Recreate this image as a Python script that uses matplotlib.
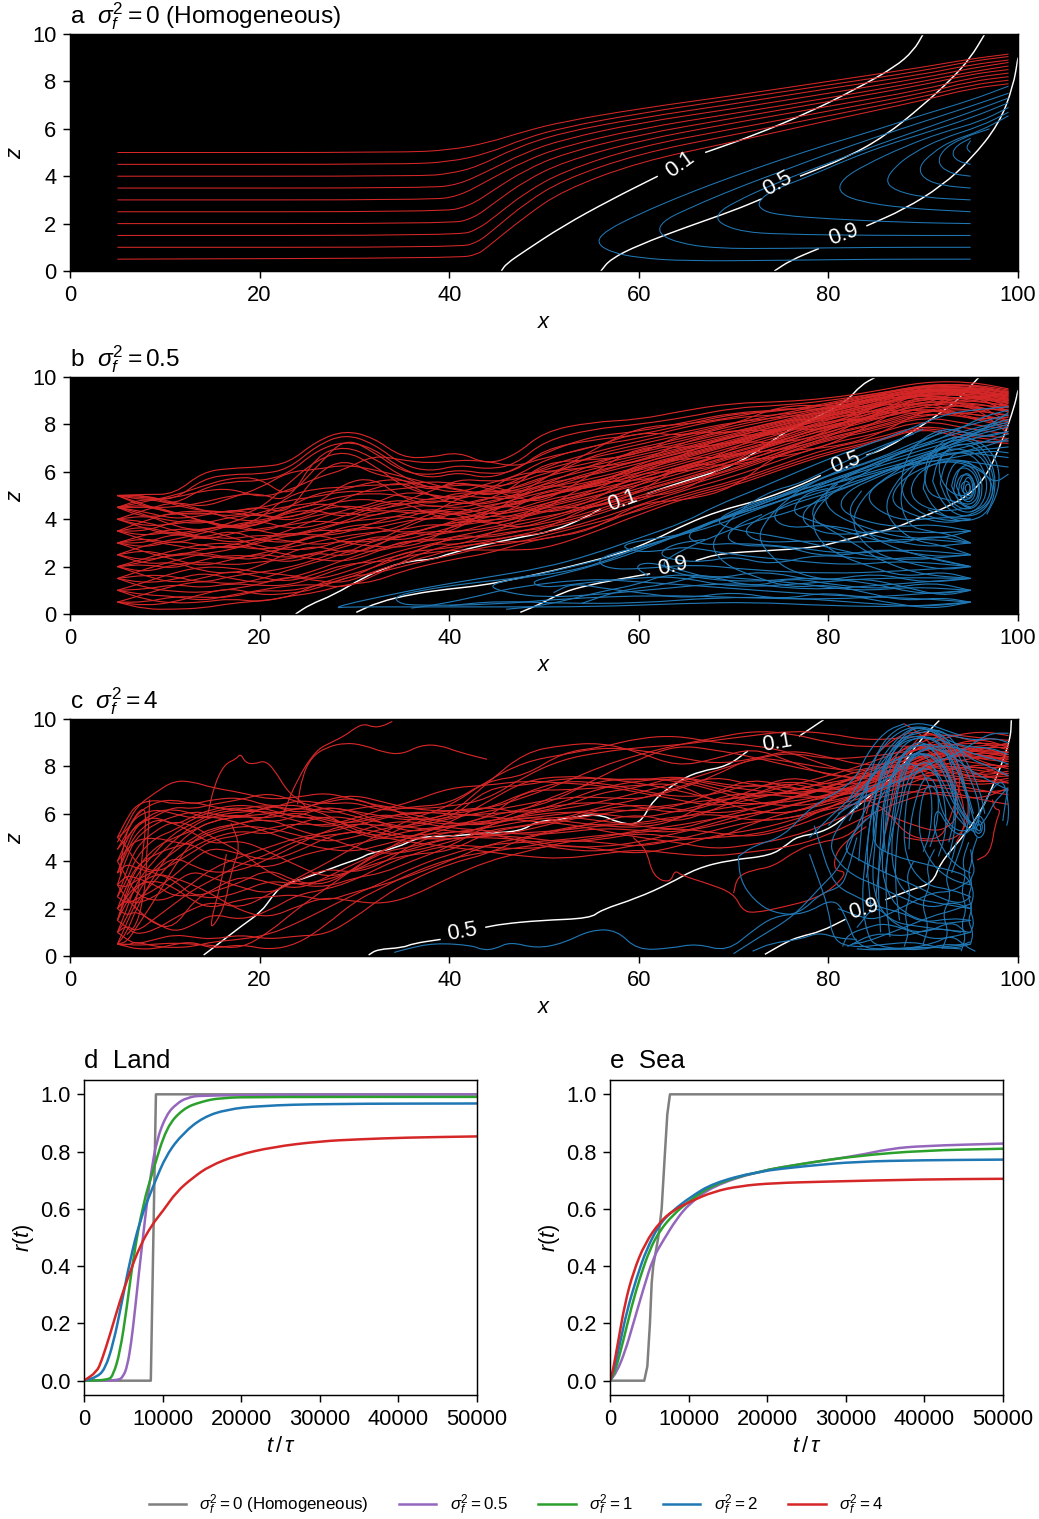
import numpy as np
import matplotlib
matplotlib.use("Agg")
import matplotlib.pyplot as plt
from matplotlib.path import Path
from matplotlib.patches import PathPatch

plt.rcParams['font.family'] = ['Liberation Sans', 'DejaVu Sans']
plt.rcParams['mathtext.fontset'] = 'custom'
plt.rcParams['mathtext.rm'] = 'Liberation Sans'
plt.rcParams['mathtext.it'] = 'Liberation Sans:italic'
plt.rcParams['font.size'] = 10.5
plt.rcParams['axes.linewidth'] = 0.7

RED = '#d62728'
BLUE = '#1f77b4'
PURPLE = '#9467bd'
GREEN = '#2ca02c'
GREY = '#7f7f7f'

# ---- panel a: streamlines, homogeneous field
a_red = [
    [(5,5),(35,5),(40,5.1),(44,5.4),(48,5.9),(52,6.3),(60,6.85),(70,7.4),(80,8.0),(90,8.6),(95,8.95),(99,9.15)],
    [(5,4.5),(35,4.5),(40,4.6),(44,4.95),(48,5.6),(52,6.05),(60,6.65),(70,7.25),(80,7.85),(90,8.45),(95,8.85),(99,9.05)],
    [(5,4),(37,4),(40,4.1),(43,4.4),(47,5.2),(52,5.85),(60,6.45),(70,7.05),(80,7.7),(90,8.3),(95,8.7),(99,8.9)],
    [(5,3.5),(38,3.5),(41,3.65),(44,4.2),(48,5.0),(52,5.55),(60,6.25),(70,6.85),(80,7.5),(90,8.15),(95,8.55),(99,8.8)],
    [(5,3),(38,3),(41,3.15),(44,3.8),(48,4.65),(52,5.25),(60,6.0),(70,6.65),(80,7.3),(90,8.0),(95,8.4),(99,8.65)],
    [(5,2.5),(39,2.5),(42,2.7),(45,3.5),(48,4.25),(52,4.95),(60,5.75),(70,6.45),(80,7.15),(90,7.85),(95,8.3),(99,8.5)],
    [(5,2),(40,2.0),(42.5,2.2),(45,2.95),(48,3.8),(52,4.6),(60,5.5),(70,6.25),(80,6.95),(90,7.65),(95,8.15),(99,8.35)],
    [(5,1.5),(41,1.5),(43,1.75),(45,2.35),(48,3.3),(52,4.2),(60,5.25),(70,6.0),(80,6.75),(90,7.5),(95,8.0),(99,8.2)],
    [(5,1),(41,1.0),(43,1.2),(45,1.85),(48,2.85),(52,3.85),(60,4.95),(70,5.75),(80,6.55),(90,7.35),(95,7.85),(99,8.05)],
    [(5,.5),(41,.55),(43,.7),(44,1.0),(48,2.3),(52,3.4),(60,4.6),(70,5.45),(80,6.35),(90,7.2),(95,7.7),(99,7.9)],
]
a_blue = [
    [(95,.5),(85,.5),(75,.45),(65,.42),(60,.55),(57,.8),(55.5,1.2),(56.5,1.7),(60,2.4),(65,3.25),(70,4.0),(75,4.7),(80,5.35),(85,5.95),(90,6.6),(95,7.2),(99,7.8)],
    [(95,1),(85,1),(75,.95),(68,.95),(64,1.2),(62,1.6),(62.5,2.1),(65,2.6),(70,3.45),(75,4.2),(80,4.95),(85,5.65),(90,6.3),(95,6.95),(99,7.5)],
    [(95,1.5),(85,1.5),(75,1.55),(71,1.65),(68.5,2.0),(68.2,2.4),(70,2.9),(75,3.8),(80,4.55),(85,5.3),(90,6.0),(95,6.7),(99,7.3)],
    [(95,2),(88,2.05),(80,2.2),(75,2.35),(73,2.55),(72.5,2.9),(74,3.4),(78,4.0),(82,4.7),(86,5.3),(90,5.8),(95,6.45),(99,7.1)],
    [(95,2.5),(88,2.65),(83,2.95),(81,3.35),(81.5,3.9),(84,4.5),(88,5.25),(92,5.85),(96,6.3),(99,6.9)],
    [(95,3),(90,3.1),(87,3.4),(86,3.8),(87,4.4),(89,5.0),(92,5.6),(96,6.1),(99,6.7)],
    [(95,3.5),(92,3.6),(90,3.9),(89.5,4.4),(91,5.0),(93,5.5),(96,5.9),(99,6.55)],
    [(95,4),(93,4.1),(91.5,4.5),(92,5.1),(94,5.6),(97,6.0)],
    [(95,4.5),(93.8,4.6),(93,4.9),(93.5,5.3),(95,5.6)],
    [(95,5),(94.5,5.2),(95,5.5)],
]
a_contours = [
    [(45.5,0),(46,.3),(48,.85),(52,1.9),(57,3),(62,4)],
    [(67,5),(72,5.7),(78,6.7),(83,7.7),(87,8.6),(89,9.3),(90,10)],
    [(56,0),(57,.5),(60,1.1),(65,1.85),(70,2.55),(73,3.05)],
    [(77,4.0),(82,4.8),(86,5.7),(90,7),(93,8.1),(95,9),(96.5,10)],
    [(74.3,0),(76,.45),(79,.95)],
    [(84,1.9),(88,2.6),(92,3.6),(95,4.7),(98,6.2),(99.5,7.8),(100,9)],
]
a_labels = [('0.1',64.4,4.47,36),('0.5',74.6,3.67,30),('0.9',81.6,1.52,20)]

# ---- panel b
b_red_x = [5,8,11,14,17,20,23,26,29,32,35,38,41,44,47,50,55,60,65,70,75,80,85,90,95,99]
b_red = [
    [5.0,5.05,5.05,6.0,6.15,6.2,6.35,7.3,7.75,7.45,6.6,6.6,6.85,6.3,6.7,7.7,8.1,8.2,8.6,8.9,8.95,9.1,9.4,9.8,9.8,9.5],
    [5.0,4.9,4.8,5.7,5.9,5.9,6.1,7.1,7.6,7.2,6.3,6.0,6.3,6.1,6.3,7.3,7.8,8.0,8.3,8.7,8.8,9.0,9.3,9.6,9.7,9.3],
    [4.5,4.9,4.6,5.3,5.6,5.6,5.9,6.9,7.3,7.0,6.1,5.7,6.0,5.7,6.1,6.8,7.5,7.7,8.1,8.5,8.6,8.8,9.2,9.5,9.5,9.2],
    [4.5,4.5,4.5,4.7,5.0,5.1,4.7,6.7,7.1,6.6,5.8,5.3,5.1,5.5,5.8,6.5,7.1,7.4,7.9,8.3,8.4,8.7,9.1,9.4,9.4,9.0],
    [5.0,4.6,4.2,4.3,4.1,4.4,5.5,6.5,6.9,6.3,5.4,5.0,4.8,5.2,5.6,6.2,6.8,7.3,7.7,8.1,8.3,8.5,9.0,9.3,9.3,8.9],
    [.5,.2,.2,.25,.45,.55,.7,1.25,1.6,1.95,2.4,2.6,2.7,2.7,2.7,2.75,3.4,4.2,4.9,5.4,6.1,6.75,7.25,7.9,7.3,7.2],
    [.5,.5,.75,.7,.7,1.0,.95,1.2,1.45,1.95,2.6,2.7,2.85,3.0,3.05,3.15,3.6,4.45,5.1,5.6,6.3,7.0,7.4,8.0,7.6,7.4],
    [1.0,.8,.75,.55,.8,1.0,1.2,1.25,1.1,1.6,2.2,2.7,3.0,3.1,3.3,3.4,3.9,4.6,5.25,5.8,6.5,7.2,7.6,8.2,7.8,7.6],
    [1.0,1.05,1.25,1.1,1.3,1.2,1.2,1.55,2.0,2.3,2.7,2.95,3.2,3.3,3.5,3.6,4.1,4.8,5.4,6.0,6.7,7.35,7.75,8.35,8.0,7.8],
    [1.5,1.3,1.45,1.75,1.5,1.3,1.5,1.85,2.3,2.7,3.0,3.2,3.1,3.4,3.65,3.8,4.3,5.0,5.55,6.15,6.85,7.45,7.9,8.5,8.3,8.0],
    [1.5,1.65,1.6,1.3,1.6,1.75,1.95,2.3,2.75,2.6,2.9,3.3,3.5,3.6,3.9,4.1,4.5,5.15,5.7,6.3,7.0,7.6,8.05,8.65,8.45,8.2],
    [2.0,1.75,2.1,2.2,2.05,2.2,2.3,2.6,2.4,2.9,3.3,3.5,3.45,3.8,4.0,4.3,4.75,5.3,5.85,6.45,7.1,7.7,8.2,8.8,8.6,8.4],
    [2.0,2.1,1.9,2.3,2.5,2.4,2.15,2.5,3.0,3.2,3.1,3.4,3.75,3.9,4.2,4.5,4.95,5.45,6.0,6.6,7.2,7.85,8.3,8.9,8.75,8.55],
    [2.5,2.25,2.5,2.5,2.3,2.55,2.8,3.05,3.3,3.45,3.55,3.8,3.7,4.1,4.35,4.65,5.1,5.55,6.15,6.7,7.3,7.95,8.4,9.0,8.85,8.7],
    [2.5,2.7,2.4,2.75,2.9,2.7,2.9,3.3,3.55,3.7,3.4,3.6,4.0,4.25,4.4,4.8,5.2,5.7,6.3,6.85,7.4,8.05,8.5,9.1,9.0,8.8],
    [3.0,2.8,3.1,2.9,2.75,3.0,3.3,3.55,3.5,3.6,3.9,4.05,4.0,4.35,4.65,5.0,5.35,5.85,6.4,6.95,7.5,8.1,8.6,9.2,9.1,8.9],
    [3.0,3.2,2.95,3.3,3.15,3.35,3.25,3.5,3.9,4.0,4.15,3.95,4.3,4.6,4.75,4.9,5.5,5.95,6.5,7.05,7.6,8.2,8.7,9.3,9.2,9.0],
    [3.5,3.3,3.5,3.1,3.4,3.6,3.75,3.95,3.8,4.2,4.4,4.3,4.15,4.5,4.85,5.15,5.6,6.05,6.6,7.15,7.7,8.3,8.75,9.35,9.3,9.05],
    [3.5,3.7,3.35,3.6,3.7,3.45,3.8,4.2,4.3,4.1,4.5,4.6,4.45,4.75,4.95,5.3,5.7,6.2,6.7,7.25,7.8,8.35,8.8,9.4,9.35,9.1],
    [4.0,3.7,3.8,3.95,3.65,3.9,4.1,4.35,4.6,4.4,4.6,4.8,4.7,4.6,5.05,5.5,5.85,6.35,6.85,7.35,7.9,8.4,8.9,9.45,9.4,9.15],
    [4.0,4.15,3.9,3.8,4.1,4.2,4.0,4.5,4.8,4.85,4.55,4.9,5.0,4.9,4.85,5.35,6.0,6.45,6.95,7.45,8.0,8.5,9.0,9.5,9.45,9.2],
    [4.5,4.2,3.7,3.5,3.85,4.3,4.55,4.7,5.0,5.1,5.0,4.75,5.15,5.05,5.2,5.6,6.1,6.6,7.05,7.55,8.05,8.55,9.05,9.5,9.5,9.25],
    [4.5,4.05,4.25,4.2,4.35,4.45,4.8,4.95,5.2,5.15,5.3,5.4,5.3,4.95,5.35,5.8,6.25,6.7,7.15,7.6,8.1,8.6,9.1,9.55,9.55,9.3],
    [5.0,4.5,4.3,3.9,3.6,4.0,5.0,5.3,5.35,5.45,5.45,5.6,5.5,5.35,5.5,5.95,6.4,6.8,7.25,7.7,8.15,8.65,9.15,9.6,9.6,9.35],
    [4.0,3.9,3.5,3.25,3.0,3.15,3.5,4.0,4.4,4.65,5.15,5.05,4.85,4.45,4.6,4.95,5.55,6.15,6.65,7.2,7.75,8.25,8.55,9.1,9.15,8.95],
    [3.0,3.35,3.6,3.55,3.25,2.85,2.7,2.75,3.15,3.4,3.7,4.25,4.5,4.2,4.3,4.55,5.05,5.75,6.25,6.8,7.35,7.9,8.35,8.85,8.95,8.6],
    [2.0,2.35,2.7,2.95,3.0,2.75,2.5,2.3,2.2,2.55,3.1,3.05,3.3,3.55,3.75,4.0,4.65,5.2,5.75,6.35,6.95,7.55,8.0,8.55,8.65,8.35],
    [1.0,1.35,1.75,2.0,1.95,1.75,1.65,1.45,1.75,2.2,2.5,2.85,3.35,3.2,3.45,3.7,4.2,4.9,5.5,6.1,6.75,7.4,7.85,8.4,8.5,8.1],
    [5.0,5.0,4.6,4.35,4.3,4.55,4.2,5.95,6.55,5.9,5.7,5.15,5.7,5.6,5.65,6.1,6.6,7.0,7.45,7.95,8.35,8.75,9.2,9.7,9.65,9.4],
    [4.5,4.75,5.0,5.4,5.75,5.75,4.9,6.2,7.45,6.85,6.0,5.85,6.1,5.9,6.0,6.95,7.35,7.55,8.0,8.45,8.55,8.9,9.3,9.65,9.7,9.45],
    [4.0,4.4,4.75,4.5,4.9,5.3,6.0,6.1,6.3,6.1,5.8,5.5,5.2,5.1,5.3,5.7,6.7,7.15,7.6,8.05,8.45,8.85,9.25,9.6,9.55,9.35],
    [3.5,3.95,4.3,4.35,4.3,4.1,4.5,5.1,5.25,5.6,5.7,5.3,5.45,5.45,5.1,5.45,6.3,6.9,7.35,7.85,8.25,8.7,9.1,9.45,9.45,9.05],
    [2.5,2.9,3.15,3.4,3.75,3.95,3.6,3.7,4.15,4.6,4.85,4.5,4.6,4.9,5.0,5.25,5.9,6.5,7.0,7.5,7.95,8.45,8.9,9.25,9.25,8.8],
    [1.5,1.9,2.25,2.55,2.7,3.1,3.45,3.3,3.4,3.85,4.2,4.45,4.25,4.4,4.7,5.0,5.45,6.25,6.75,7.3,7.85,8.35,8.85,9.25,9.05,8.75],
    [.5,.85,1.2,1.4,1.25,1.45,1.85,2.2,2.55,3.1,3.25,3.65,3.9,3.95,4.05,4.35,4.85,5.6,6.1,6.65,7.25,7.8,8.25,8.75,8.25,7.9],
    [.5,.35,.5,.85,1.1,.8,.85,1.05,1.55,1.7,2.0,2.3,2.55,2.85,3.0,3.3,3.8,4.35,5.0,5.5,6.2,6.85,7.3,7.95,7.45,7.3],
    [5.0,5.0,4.7,4.4,4.0,3.9,4.3,4.7,4.5,4.3,4.7,5.2,5.6,5.3,5.0,5.7,6.9,7.9,8.0,8.3,8.7,8.6,9.1,9.2,9.6,9.1],
    [4.5,4.3,4.0,4.15,4.4,4.2,3.9,4.25,4.9,5.3,5.6,5.0,4.6,4.8,5.4,6.4,6.5,6.7,7.7,7.6,8.2,8.2,8.7,9.6,9.1,9.3],
    [4.0,3.6,3.3,3.5,3.8,3.5,3.3,3.6,3.9,4.4,4.3,4.2,4.9,5.3,4.9,4.7,5.9,7.1,7.0,7.2,7.9,7.9,8.9,8.8,9.6,8.7],
    [3.5,3.1,2.9,2.7,2.9,3.2,3.1,2.9,3.1,3.0,3.6,4.1,4.3,4.0,4.5,5.2,5.3,5.9,6.8,7.6,7.5,8.5,8.5,9.0,8.9,9.4],
    [3.0,2.6,2.3,2.0,2.3,2.55,2.35,2.6,2.8,3.3,3.2,3.7,3.85,4.15,4.1,4.4,5.6,5.6,6.1,7.0,7.9,7.7,8.8,9.4,8.7,8.6],
    [2.5,2.1,2.2,1.8,1.7,2.0,2.6,2.9,2.55,2.75,3.5,3.3,3.6,4.4,4.6,4.2,4.7,6.0,6.0,6.4,7.5,8.2,8.2,8.7,9.3,8.5],
    [2.0,1.6,1.3,1.5,1.85,1.55,1.35,1.7,2.1,2.2,2.3,3.0,2.9,3.35,3.85,4.6,4.4,5.1,6.4,6.2,6.8,7.8,8.6,8.6,8.4,8.9],
    [1.5,1.1,.95,.9,1.05,1.25,1.6,1.4,1.3,1.8,2.15,2.45,2.8,3.05,3.3,3.55,4.6,4.9,5.2,6.5,6.6,7.1,8.1,9.1,8.2,8.3],
    [1.0,.6,.45,.5,.65,.5,.75,.9,1.25,1.35,1.8,2.1,2.35,2.55,2.9,3.2,3.5,4.7,4.8,5.3,6.9,7.0,7.5,8.6,8.9,7.6],
    [4.5,4.6,4.3,3.9,3.7,3.75,4.4,4.6,5.55,5.75,4.9,4.6,5.0,5.2,5.9,6.0,6.2,6.4,7.3,7.8,7.7,8.4,9.4,9.0,9.2,9.0],
    [5.0,4.8,4.9,5.2,5.3,4.9,5.2,5.75,6.1,6.7,6.5,6.35,6.5,6.45,6.2,6.6,7.0,7.7,7.5,8.0,8.8,8.8,8.7,9.5,9.35,9.2],
    [3.0,3.0,3.4,3.2,3.55,3.1,3.0,3.25,3.7,3.8,4.0,4.4,4.2,3.75,4.0,4.7,5.1,6.2,6.6,6.6,7.3,8.0,8.3,9.3,8.6,8.75],
    [2.0,2.2,2.55,2.6,2.35,2.3,2.9,3.4,3.0,2.85,2.8,3.1,3.9,3.95,3.6,3.9,4.55,5.45,6.3,6.8,6.9,7.4,8.6,8.4,9.0,8.1],
    [3.5,3.5,3.9,4.0,3.6,3.75,4.3,4.4,4.05,4.5,4.75,4.2,3.9,4.15,4.9,5.5,5.25,6.35,6.9,7.3,7.2,7.6,8.4,9.5,9.25,8.55],
]
b_blue = [
    [(95,.5),(88,.3),(80,.35),(72,.5),(65,.45),(55,.3),(45,.3),(35,.3),(29,.3),(28,.25),(29,.4),(33,.75),(38,1.15),(44,1.55),(50,1.95),(55,2.5),(60,3.2),(65,3.9),(68,4.55),(73,5.35),(77,6.05),(82,6.85),(88,7.7),(92,8.4),(95,8.6),(99,8.75)],
    [(95,1),(88,.8),(80,.6),(70,.7),(62,.8),(52,.65),(45,.4),(36,.35),(34.5,.5),(34.3,.75),(37,1.0),(42,1.3),(48,1.55),(52,1.9),(57,2.4),(62,3.0),(67,3.8),(72,4.5),(76,5.1),(80,5.9),(85,6.5),(90,7.4),(95,8.0),(99,8.4)],
    [(95,1.5),(85,1.2),(78,1.0),(70,1.35),(62,1.05),(55,.8),(50,.7),(46,.9),(44,1.2),(47,1.5),(52,1.75),(56,2.15),(60,2.8),(66,3.5),(70,4.3),(75,5.0),(79,5.7),(84,6.35),(90,7.2),(95,7.8),(99,8.2)],
    [(95,1.5),(86,1.55),(78,1.3),(70,1.1),(64,1.6),(59,1.5),(54,1.3),(50,1.1),(48.5,1.35),(51,1.6),(55,2.0),(60,2.65),(64,3.3),(69,4.05),(74,4.8),(79,5.5),(84,6.2),(89,7.0),(95,7.6),(99,8.0)],
    [(95,2.0),(87,1.8),(80,1.7),(72,1.85),(66,2.1),(60,1.9),(57,1.9),(55.5,2.2),(57,2.55),(61,2.9),(66,3.6),(71,4.3),(76,4.9),(82,5.9),(88,6.7),(94,7.4),(99,7.9)],
    [(95,2.0),(88,2.25),(82,2.05),(75,2.3),(70,2.5),(65,2.85),(63,2.7),(60,2.6),(58,2.85),(60,3.1),(64,3.3),(68,3.7),(72,4.35),(78,5.2),(84,5.95),(90,6.6),(96,7.2),(99,7.6)],
    [(95,2.5),(88,2.75),(82,2.5),(76,2.85),(70,3.0),(67,2.9),(65,3.2),(66,3.65),(69,4.1),(73,4.5),(78,5.25),(84,5.85),(90,6.5),(96,7.0),(99,7.4)],
    [(95,2.5),(87,2.2),(79,2.9),(75,3.25),(70,3.55),(68,3.9),(70,4.4),(74,4.9),(79,5.45),(85,6.2),(91,6.9),(96,7.5),(99,7.7)],
    [(95,3.0),(89,3.2),(84,3.0),(78,3.1),(73,3.0),(71,3.4),(72,3.9),(75,4.5),(80,5.1),(85,5.8),(89,6.6),(94,7.2),(99,7.3)],
    [(95,3.0),(90,2.8),(85,3.3),(80,3.8),(76,3.6),(74,4.0),(75,4.6),(78,5.0),(83,5.6),(88,6.3),(93,6.8),(99,7.05)],
    [(95,3.5),(91,3.4),(86,3.55),(81,3.3),(78,3.6),(77,4.2),(79,4.9),(83,5.5),(87,6.2),(92,6.5),(97,6.9),(99,6.8)],
    [(95,3.5),(91,3.8),(87,3.65),(83,4.0),(81,4.5),(82,5.2),(85,5.75),(89,6.4),(93,6.9),(99,6.6)],
    [(95,4.0),(92,4.1),(88,3.9),(85,4.4),(84,5.0),(85.5,5.6),(88,6.1),(92,6.6),(97,6.3),(99,6.2)],
    [(95,4.0),(92,3.8),(88,4.3),(86.5,4.8),(87.5,5.6),(90,6.2),(93,6.5),(96,6.1),(97.5,5.5),(99,5.9)],
    [(95,4.5),(92,4.3),(89.5,4.6),(88.5,5.2),(89.5,6.0),(92,6.5),(95,6.4),(97,5.8),(97.5,5),(96,4.3),(93,4.0),(90.5,4.4)],
    [(95,.5),(90,.65),(82,.75),(74,.95),(66,1.2),(60,1.35),(55,1.5),(47,1.15),(42,.65),(38,.35),(36,.25)],
    [(95,.5),(90,.3),(84,.45),(76,.7),(68,.7),(60,.45),(52,.45),(45,.55),(40,.35)],
    [(95,1.0),(89,1.15),(83,.95),(76,1.35),(69,1.55),(63,1.7),(60,1.25),(56,.95),(50,.35),(46,.2)],
    [(95,1.0),(90,.8),(84,1.35),(78,1.55),(72,1.35),(66,1.5),(62,2.0),(64,2.6),(68,3.3),(72,3.9),(76,4.3),(80,4.9)],
    [(95,1.5),(90,1.65),(86,2.15),(83,2.9),(80,3.6),(78,4.1),(79,4.9),(81,5.5)],
    [(95,2),(91,2.3),(86,2.9),(83,3.7),(82,4.4),(83.5,5.2)],
    [(95,.5),(92,.7),(88,.55),(84,.9),(80,1.25),(76,1.1),(72,1.6),(69,2.1),(67.5,2.9),(69,3.7),(71,4.5),(74,5.2),(77,5.5),(81,6.3),(85,7.0),(89,7.6)],
    [(95,1),(92,.75),(88,1.15),(84,1.5),(80,1.4),(76,1.8),(74,2.4),(72.5,3.2),(73.5,4.0),(75.5,4.8),(78,5.5),(82,6.2),(86,7.1),(90,7.8)],
    [(95,1.5),(92,1.8),(88,1.55),(84,2.05),(81,2.5),(79,3.1),(78.2,3.9),(79,4.6),(81,5.3),(84,6.0),(88,6.9),(92,7.7)],
    [(95,2),(92,1.85),(88,2.2),(85,2.55),(83,3.3),(82.5,4.1),(84,5.1),(86.5,5.9),(90,6.7),(94,7.3),(98,8.1)],
    [(95,2.5),(92,2.9),(89,3.1),(87,3.7),(86,4.4),(86.5,5.2),(88.5,6.2),(92,7.0),(96,7.7),(99,8.5)],
    [(95,3),(93,3.35),(90.5,3.5),(88.5,3.7),(87.5,4.7),(88,5.7),(90,6.6),(94,7.6),(99,8.1)],
    [(95,.5),(91,.2),(86,.5),(80,.95),(75,.6),(70,.95),(65,.65),(60,.9),(56,1.1),(53,1.3),(51,.9)],
    [(95,1),(91,1.35),(86,1.05),(81,1.2),(76,1.55),(72,1.1),(67,1.7),(63,1.25),(58,1.0),(54,.45)],
    [(95,1.5),(90,1.3),(85,1.75),(79,1.35),(73,1.85),(68,1.45),(64,1.9),(61,2.2),(59.5,2.0),(61,1.6)],
    [(95,2),(90,2.45),(85,2.25),(79,2.55),(74,2.05),(70,2.45),(67,2.2),(64,2.25),(62,2.5),(63.5,2.95),(67,3.15)],
    [(95,2.5),(91,2.4),(86,2.8),(80,2.35),(75,2.9),(71,2.85),(69,3.2),(70.5,3.8),(73,4.2)],
    [(95,3),(91,3.35),(87,2.9),(82,3.45),(78,3.95),(76,4.3),(77.5,5.1),(80,5.3)],
    [(95,3.5),(92,3.2),(88,3.2),(84,3.6),(80,4.3),(79.5,5.2),(82,5.8),(86,6.6),(91,7.2),(96,8.3),(99,8.6)],
    [(95,4),(93,3.9),(90,4.15),(87.5,5),(88,6.5),(90,7.5),(93,7.9),(96,7.4),(99,7.7)],
    [(95,4.5),(93,4.8),(90.5,5),(90,6),(91,7),(93.5,7.6),(96.5,7.2),(98,6.3),(98,5.2),(96.7,4.2)],
    [(95,5),(93,5),(91.5,5.9),(92,6.9),(94,7.0),(96.5,6.6),(97.3,5.5),(96.7,4.6),(95,4.3)],
    # spiral around the vortex
    [(90,5.3),(90.5,6.4),(92.5,7.3),(94.8,7.4),(96.8,6.8),(97.8,5.6),(97,4.3),(95,3.9),(92.8,4.0),(91,4.5),(90,5.3)],
    [(91,5.6),(91.5,6.5),(93,7.1),(94.5,7.2),(96,6.9),(97.3,6.1),(97.5,5.2),(96.6,4.4),(95,4.1),(93.3,4.2),(91.8,4.8),(91,5.6)],
    [(91.8,5.5),(92.2,6.3),(93.3,6.8),(94.7,6.8),(96,6.4),(96.8,5.6),(96.5,4.8),(95.4,4.3),(94,4.3),(92.6,4.7),(91.8,5.5)],
    [(92.4,5.4),(92.8,6.1),(93.7,6.5),(95,6.4),(96,5.9),(96.3,5.2),(95.8,4.6),(94.8,4.4),(93.6,4.5),(92.7,4.9),(92.4,5.4)],
    [(93,5.4),(93.3,5.9),(94,6.2),(95,6.1),(95.7,5.7),(95.9,5.1),(95.4,4.7),(94.5,4.6),(93.6,4.8),(93,5.4)],
    [(93.5,5.4),(93.8,5.8),(94.4,5.9),(95.1,5.8),(95.4,5.4),(95.3,5),(94.7,4.8),(94,4.9),(93.5,5.4)],
    [(94,5.4),(94.3,5.6),(94.8,5.6),(95,5.3),(94.7,5.05),(94.2,5.1),(94,5.4)],
    [(93.2,5.2),(93.5,5.9),(94.2,6.3),(95.2,6.2),(96,5.6),(95.9,4.8),(95,4.45),(94,4.6),(93.2,5.2)],
    [(93.7,5.1),(93.9,5.7),(94.6,6.0),(95.3,5.7),(95.6,5.1),(95,4.7),(94.2,4.8),(93.7,5.1)],
    [(94.2,5.2),(94.4,5.7),(94.9,5.8),(95.3,5.4),(95.1,4.95),(94.6,4.85),(94.2,5.2)],
    [(94.4,5.3),(94.6,5.5),(94.95,5.45),(95,5.2),(94.7,5.05),(94.4,5.3)],
]
b_contours = [
    [(23.8,0),(25.3,.4),(27.8,.8),(31,1.55),(33.6,2),(36,2.25),(38.3,2.3),(40,2.55),(43.5,2.9),(47.5,3.24),(51,3.5),(54.5,4.1),(56,4.45)],
    [(60.8,5.07),(65,5.63),(68.6,6.05),(72,6.7),(75.6,7.75),(79.2,8.38),(82,9.0),(83.4,9.65),(85,10)],
    [(30.2,.07),(32.5,.5),(36.2,.85),(39.8,1.05),(43.4,1.2),(47,1.48),(51,1.83),(54.5,2.18),(58,2.54),(61.5,3.1),(65,3.8),(68.6,4.37),(72,4.72),(74.2,5),(77.4,5.5),(79.2,5.85)],
    [(84,6.7),(86.2,7),(89.7,7.9),(93.2,8.87),(94.6,9.44),(95.9,10)],
    [(47.5,.07),(49.6,.42),(52,.92),(54.5,1.2),(58,1.48),(61.2,1.7)],
    [(66,2.25),(68.6,2.56),(73.9,2.68),(78.5,2.8),(80.9,3.03),(84.4,3.4),(86.9,3.6),(89.7,4.08),(92.5,4.5),(95,5.07),(96.8,5.9),(98.5,7.46),(99.6,8.73),(100,9.44)],
]
b_labels = [('0.1',58.3,4.8,20),('0.5',81.8,6.37,20),('0.9',63.6,2.03,13)]

# ---- panel c
c_red_x = [5,6,7,9,11,13,15,18,21,24,27,30,33,36,40,44,48,52,56,60,64,68,72,76,80,84,88,92,96,99]
c_red = [
    [.5,.5,.45,.5,.55,.5,.45,.3,1.0,2.0,2.85,3.7,4.4,4.6,5.0,5.0,4.9,4.6,4.6,4.8,5.2,5.5,5.9,6.4,6.7,7.0,7.6,7.4,7.2,7.4],
    [.5,1.0,2.0,3.5,4.6,5.3,5.7,5.9,5.8,6.1,5.7,5.6,5.9,6.0,6.1,6.3,6.0,6.3,6.9,7.1,7.6,7.2,7.0,6.8,7.0,7.5,8.3,8.6,8.3,8.4],
    [.5,.6,1.2,2.4,3.8,4.9,5.3,5.6,5.9,6.3,6.0,5.3,5.0,5.6,6.0,6.2,6.9,7.4,7.3,7.0,6.7,6.8,7.3,6.9,6.6,7.1,7.7,8.2,7.9,8.0],
    [1.0,.7,.5,.7,.9,.8,.7,.9,.7,.85,.9,1.6,2.5,3.2,3.9,4.3,5.0,5.3,5.7,6.0,5.6,6.2,6.8,7.4,6.8,7.2,7.9,8.8,8.5,8.2],
    [1.0,1.6,2.6,3.8,4.4,5.0,5.4,5.6,5.8,5.3,5.0,4.6,4.3,4.4,4.8,5.3,5.5,5.8,6.3,6.6,7.1,7.6,7.2,7.1,6.9,7.6,8.2,8.0,7.6,7.8],
    [1.5,2.3,2.9,3.5,3.3,3.0,2.6,1.9,1.6,2.1,2.5,2.3,2.2,2.5,3.3,4.0,4.4,4.8,5.0,5.3,5.5,5.8,6.0,6.3,6.8,7.4,8.0,8.6,8.9,8.9],
    [1.5,2.8,3.7,4.6,5.0,5.3,5.7,5.9,6.0,6.2,6.5,6.7,6.2,6.0,5.6,5.5,6.0,6.5,7.1,7.4,7.5,7.1,6.7,6.9,7.0,7.1,7.5,8.1,8.4,8.6],
    [2.0,2.5,3.0,3.2,2.9,2.3,2.0,2.4,2.5,2.6,2.3,2.7,3.0,3.4,4.0,4.7,5.0,5.4,5.6,5.5,5.3,5.8,6.2,6.7,7.1,7.8,8.5,9.2,9.5,9.3],
    [2.5,3.6,4.6,5.3,5.7,5.5,5.0,4.4,3.5,3.0,2.9,3.3,3.5,4.0,4.6,5.5,6.0,6.2,6.5,6.9,7.3,7.8,8.3,8.6,8.3,8.4,8.6,8.9,9.0,8.9],
    [3.0,3.4,3.3,3.0,2.5,2.6,2.4,2.7,3.2,3.0,3.2,3.6,4.2,4.5,5.0,5.0,5.3,5.7,6.0,6.2,6.4,6.6,6.7,6.9,7.4,7.9,8.0,7.6,7.3,7.5],
    [3.0,4.2,5.0,5.6,5.9,6.1,6.0,5.8,6.4,6.1,6.6,6.8,6.5,6.2,6.1,6.2,6.7,7.3,8.0,8.5,8.9,9.2,9.5,9.4,9.0,8.8,8.9,8.7,8.3,8.2],
    [3.5,4.4,5.2,5.8,5.6,5.2,4.7,4.9,4.4,3.8,3.3,3.6,4.0,4.3,4.4,5.2,5.5,5.7,6.2,6.4,6.2,6.0,6.2,6.6,7.2,7.6,8.2,7.9,7.5,7.7],
    [3.5,3.9,3.7,3.5,3.2,2.5,2.7,3.1,3.7,3.1,3.0,3.7,4.5,4.9,5.4,5.9,6.2,6.7,7.6,8.3,8.9,8.7,8.4,8.0,7.7,7.4,7.7,8.3,8.8,8.8],
    [4.0,4.5,4.9,5.0,4.8,4.7,4.2,3.9,3.7,4.2,4.5,4.7,5.0,5.3,5.5,5.6,6.2,6.9,7.4,7.5,7.4,7.0,6.5,6.3,6.5,6.9,7.3,7.1,6.9,7.0],
    [4.8,5.5,6.3,6.9,7.4,7.35,7.1,6.9,6.6,6.7,6.9,6.6,6.3,6.2,6.3,6.6,7.6,8.3,8.6,8.8,8.9,9.1,9.3,9.5,9.4,9.1,9.2,9.4,9.0,8.7],
    [5.0,5.3,5.9,6.2,6.0,5.8,5.9,5.6,5.2,4.8,4.5,4.4,4.7,5.0,5.6,6.5,7.4,7.6,7.5,7.3,7.0,6.6,6.1,6.0,6.6,7.2,7.9,8.5,8.7,8.6],
    [4.5,5.0,5.5,5.9,6.3,6.2,6.4,6.6,6.9,6.5,6.2,5.9,5.6,5.4,5.3,5.1,5.0,4.8,4.9,5.2,5.0,4.9,5.6,6.1,6.4,6.9,7.6,8.1,7.8,7.7],
    [4.0,3.3,2.6,2.3,2.5,3.1,3.7,4.2,4.6,5.0,5.2,5.5,5.8,6.1,6.0,5.9,5.7,5.6,5.3,5.0,4.8,4.5,4.7,5.0,5.6,6.3,6.8,7.3,7.0,6.8],
    [2.5,2.2,2.4,2.8,3.4,4.1,4.6,4.3,4.0,4.4,5.0,5.3,5.0,4.8,4.6,4.4,4.2,4.1,4.3,4.5,4.3,4.2,4.4,4.6,5.1,5.9,6.6,7.0,6.6,6.4],
    [2.0,1.7,1.9,1.4,1.0,1.3,1.8,1.5,1.9,2.6,2.8,3.2,3.8,4.3,4.7,4.6,4.5,4.7,4.5,4.3,4.6,5.1,5.3,5.7,6.2,7.0,7.5,7.7,7.4,7.3],
    [.5,.45,.6,.4,.35,.4,.6,.7,.9,1.4,2.0,2.6,3.1,3.7,4.3,4.7,4.8,4.9,5.1,5.2,5.4,5.2,5.0,5.4,6.0,6.6,7.2,7.8,8.1,8.0],
    [.5,.4,.3,.3,.5,.6,.3,.5,.25,.5,1.3,2.3,2.9,3.5,4.1,4.4,4.6,4.9,4.8,4.6,4.9,5.3,5.7,5.8,6.3,6.7,7.4,8.3,8.6,8.5],
    [3.0,2.4,2.0,1.3,1.2,2.3,2.8,3.4,3.1,2.8,3.3,3.9,4.4,5.1,5.5,5.7,5.9,6.1,6.0,5.8,6.1,6.5,6.8,7.2,7.6,8.1,8.7,9.4,9.2,9.1],
    [1.5,1.2,.9,1.1,1.6,2.0,2.3,2.0,2.6,3.3,3.9,4.6,5.2,5.8,6.3,7.4,8.2,8.5,8.8,8.7,8.4,8.1,8.3,8.7,8.4,8.0,8.2,8.6,8.4,8.3],
    [5.0,4.6,3.9,3.5,3.9,4.4,4.9,5.1,5.4,5.6,5.5,5.8,6.2,6.5,7.1,7.2,7.4,7.3,7.2,6.9,6.6,6.3,6.6,7.0,7.3,7.6,8.0,7.8,7.5,7.6],
    [2.0,3.0,3.8,4.3,4.6,4.8,5.2,5.5,5.4,5.1,4.8,5.0,5.4,5.5,5.9,6.0,6.1,6.4,6.5,6.3,6.0,6.4,7.0,7.6,7.2,7.3,7.8,8.4,8.1,8.0],
    [1.0,2.0,3.1,4.1,4.9,5.5,5.9,6.1,6.1,5.9,5.7,5.2,4.9,5.1,5.2,5.4,5.7,5.9,5.7,5.5,5.8,6.2,6.4,6.6,7.1,7.7,8.4,8.9,8.6,8.4],
    [1.5,2.6,3.4,4.4,5.2,5.6,6.0,6.2,6.4,6.0,6.3,6.1,5.9,5.7,5.9,7.3,8.6,8.9,9.0,8.6,8.0,8.3,8.8,8.2,7.6,7.5,7.9,8.4,8.9,8.4],
    [2.5,3.2,4.2,5.0,5.3,5.8,6.1,6.3,6.0,5.7,5.4,5.7,6.0,5.8,5.7,7.1,7.2,7.5,7.5,7.4,7.6,7.3,7.1,7.4,7.1,7.0,7.4,7.9,8.0,7.6],
    [3.5,4.6,5.5,6.1,6.2,6.0,5.8,6.0,5.6,5.9,6.3,6.1,5.6,5.2,5.5,5.6,5.8,6.0,6.2,6.1,6.3,6.9,7.5,7.1,6.9,6.8,7.6,7.3,7.7,8.1],
    [4.0,4.9,5.6,5.9,5.5,5.9,6.2,6.4,6.2,5.8,5.9,5.4,5.2,4.9,5.0,5.5,5.9,5.7,5.5,5.4,5.7,6.7,6.9,6.7,6.7,7.2,8.6,9.0,8.2,7.9],
    [.5,1.4,2.3,3.2,4.1,4.6,5.0,5.3,5.1,5.6,5.9,5.8,5.3,5.0,4.9,5.1,5.2,5.3,5.5,5.6,5.9,6.0,5.7,5.8,6.2,6.5,7.0,6.8,6.6,7.1],
    [2.0,2.4,2.2,2.5,3.1,3.6,3.3,2.9,2.6,3.2,3.7,3.5,3.9,4.7,5.3,5.2,4.8,4.5,4.4,4.7,4.9,5.0,5.1,5.5,6.3,6.9,7.7,8.1,7.7,7.3],
    [3.0,2.9,3.2,3.6,4.2,3.8,3.5,3.6,4.1,4.7,5.3,5.6,5.5,5.4,5.8,6.1,6.4,6.7,6.7,6.6,7.0,7.6,8.4,8.2,7.9,7.8,8.5,9.1,8.6,8.6],
    [1.0,1.3,1.0,1.6,2.2,2.8,3.2,3.9,4.3,4.9,5.1,5.2,5.6,5.7,5.4,5.3,5.1,5.2,5.4,5.3,5.2,5.6,6.1,6.0,6.5,7.4,8.1,8.8,9.2,8.8],
    [4.5,5.2,6.0,6.5,6.6,6.4,6.6,6.7,6.3,6.4,6.0,6.2,6.4,5.8,5.5,5.8,7.0,7.0,7.1,7.2,7.3,6.5,6.4,6.5,6.8,7.3,8.0,8.7,8.5,8.3],
    [5.0,5.8,6.4,6.6,6.4,6.5,6.3,6.1,6.2,6.6,6.4,6.5,6.1,6.3,6.4,7.4,7.6,8.6,8.8,9.2,9.3,9.0,8.9,8.6,8.0,7.6,7.9,8.3,8.7,9.0],
]
c_red_extra = [
    [(14.5,5.9),(15.2,7.2),(16.3,8.1),(17.5,8.3),(18,8.55),(18.5,8.15),(19.5,8.1),(20.5,8.25),(21.5,7.9),(23,6.9),(24.5,6.5),(25,6.2)],
    [(22.5,6),(24,7.5),(26,8.7),(27.5,9.0),(29,9.3),(30,9.6),(31,9.8),(32,9.65),(33,9.7),(34,9.9)],
    [(24,6.4),(24.5,7.6),(25.5,8.4),(27,8.8),(29,9.0),(31,8.9),(33,8.6),(35,8.5),(37,8.9),(39,8.9),(41,8.6),(44,8.3)],
    [(59.4,5.0),(60.8,4.5),(61.5,3.35),(63.3,3.07),(63.8,3.63),(64.5,3.4),(67.2,3.07),(70,2.65),(70.9,1.94),(72.1,1.8),(75.6,2.1),(78.5,2.4),(80.6,2.9),(82,3.56),(80.6,3.6),(80.7,4.3),(82,4.9),(84,5.46)],
    [(70,2.65),(70.4,3.35),(72,3.63),(74.2,3.77),(76.7,4.48),(79,4.8),(82,5.0),(84,5.8)],
    [(95.7,4.05),(97.1,4.34),(97.6,5.6),(98.2,6.17),(97.5,6.2),(97.3,6.6)],
    [(84,6),(85,7.5),(87,8.5),(89,9),(91,8.6),(93,7.5),(94,6),(92,5.2),(89,5.5),(86,6)],
    [(86,5.2),(87,7),(88,8.4),(90,9.5),(92,9.2),(94,7.8),(95,6.2),(94,5),(91,4.8),(88,5.0)],
    [(84,6.6),(86,6.2),(88,5.2),(90,4.9),(92,5.0),(93,6),(94,7.2),(93.5,8.5),(92,9.3),(89,9.5),(87,9.2),(85,8.5)],
    [(88,9.8),(90,9.3),(92,8.4),(94,7),(94.5,5.5),(93.5,4.8)],
    [(8.4,6.6),(8.3,5.5),(8.1,4.4),(8.0,3.2),(7.6,2.2),(7,1.3),(6,.9)],
    [(5.3,3.4),(5.5,4.5),(6.3,5.6),(7.9,6.4),(8,5.4),(7.6,4.2),(7.3,3.0),(6.8,2.0)],
    [(16.5,4.3),(16,3.2),(14.5,.9),(16.3,2.0),(17,3.6),(18,4.6),(17,5.6)],
]
c_blue = [
    [(34.2,.15),(35.5,.3),(38.4,.55),(42.4,.45),(43.5,.25),(44.9,.3),(46.4,.6),(49.2,.32),(52,.53),(54.9,1.1),(57.7,1.1),(59.8,.25),(63.3,.32),(66.1,.53),(69.3,.18),(72.1,1.1),(74.2,1.66),(77,1.8),(79.2,2.65),(81.3,2.9),(82,3.5),(83,5)],
    [(70,.1),(72.8,.82),(76.3,1.66),(79.2,2.93),(81.3,3.77),(83,5.5),(85,7)],
    [(70.5,4.2),(70.7,3.2),(72.1,2.37),(74.2,1.8),(77.4,1.73),(80.7,2.5),(82,1.5),(83,.4),(86,.25),(90,.4),(94,.3)],
    [(70.5,4.2),(72.1,4.65),(75.3,5.04),(78.1,6.3),(82.7,7.3),(84,8.5),(86,9.5),(88,9.8)],
    [(95,.5),(90,.3),(85,.35),(84,1.0),(83.5,2.5),(84,4.5),(84.5,6),(85.5,7.5),(87,8.8),(89,9.5),(91,9.6),(93,9),(95,7.5),(96,6.3),(95.8,5.5)],
    [(95,1),(90,1.2),(86,1.5),(84.5,3),(85,5),(85.2,6.5),(86.5,8),(88,9),(90,9.3),(92,9),(93.5,8),(94.8,6.5),(95.5,5.5)],
    [(95,1.5),(91,1.3),(87,2),(85.5,3.5),(86,5.3),(86.3,7),(87.5,8.5),(89.5,9),(91.5,8.6),(93,7.5),(94.3,6),(95.7,5.3)],
    [(95,2),(92,2.2),(88,2.5),(86.5,4),(87,6),(87.5,7.5),(89,8.5),(91,8.5),(92.5,7.5),(93.5,6.3),(95,5.5)],
    [(95,2.5),(93,2.8),(90,3),(88,4.2),(88,6),(88.7,7.5),(90,8),(91.5,7.7),(92.5,6.5),(94,5.6),(95.5,5.2)],
    [(95,3),(93,3.2),(91,3.8),(89.5,5),(89.7,6.5),(90.5,7.3),(91.5,7),(92,6),(93.5,5.2),(95.5,5.4)],
    [(95,3.5),(93.5,3.8),(92,4.5),(91,5.5),(91.5,6.3),(92.5,5.5),(94,5),(95.5,5.5)],
    [(84,3.3),(84.8,5),(85.4,6.8),(86.3,8.2),(87.8,9.3),(89.5,9.7),(91.5,9.4),(93.5,8.4),(94.6,7),(95,5.9),(94,4.6),(93,3.5)],
    [(85,2.5),(85.6,4.5),(86.6,6.5),(87.2,8),(88.7,9),(90.5,9),(92,8.2),(93.2,7),(93.5,5.5),(92.7,4.2)],
    [(86,3.5),(86.5,5),(87.6,6.5),(88.2,8),(89.5,8.7),(91,8.1),(92.2,6.9),(92.5,5.3),(91.6,4.2)],
    [(82,6.5),(84,7.8),(86,9),(88,9.6),(90,9.7),(92,9.4),(94,9.2),(96,9.1),(97.5,9.2),(99,9)],
    [(83,6.2),(85,8),(87,9.1),(89,9.7),(91,9.5),(93,9.0),(95,8.8),(97,8.8),(99,8.5)],
    [(78,5),(81,6.2),(84,7.2),(86,8.4),(88,9.2),(90,9.3),(93,9),(95,8.3),(97,8),(99,7.6)],
    [(80,5.5),(83,6.8),(86,7.4),(88,8),(90,8.9),(93,8.5),(95,7.8),(97,7.4),(99,7)],
    [(95.5,5.5),(96.5,6.5),(97.5,7.2),(98.5,7.4),(99,6.5),(99,5.8),(98.8,5.5)],
    [(95,.5),(93,.3),(91,.4),(89,.6),(86,.5),(83,.35),(80.5,.6),(80,2),(79,3.2),(78,4.3)],
    [(95,1),(93,.8),(91,.7),(89,1.0),(86,1.4),(84,1.2),(82,.9),(81.5,.4)],
    [(95,1.5),(93,1.6),(90,1.4),(88,1.8),(85,2.1),(83,2.5),(81,2.9),(80,3.6),(79.3,4.5),(78.5,5.5)],
    [(95,2),(93,2.3),(91,2),(88,2.4),(85,3),(82.5,3.4),(80.5,4.2),(80.2,4.9),(82,6),(84,6.8)],
    [(95,2.5),(94,2.2),(92,2.4),(89,3),(86,3.5),(83,4.1),(81.5,4.5),(83,5.4),(85,6.1)],
    [(95,3),(94.5,3.4),(93,3.6),(90,3.9),(87,4.2),(84.5,4.7),(85,6.3),(86,7)],
    [(95,.5),(95.3,1),(94.7,1.5),(95.2,2),(94.7,2.5),(95.2,3),(94.7,3.5),(95.2,4),(95,4.5)],
    [(94,.2),(94.5,.8),(94,1.3),(94.6,2),(94,2.7),(94.5,3.4),(94.1,4),(94.8,4.8)],
    [(85,.3),(88,.3),(91,.5),(93,.9),(94.5,.4),(95.5,.2)],
    [(82,.4),(85,1),(88,.8),(91,1.2),(94,1.0)],
    [(83,1.2),(85,2.2),(87,1.3),(90,.9),(93,1.5),(94.5,1)],
    [(84.5,2),(84,4),(84.3,5.5),(85,7),(86,8.3),(87.5,9.2),(89.5,9.4),(91.5,9.6),(93,9.2),(94.5,8.3),(96,7),(96.5,6)],
    [(85.5,1),(85.2,3.2),(85.5,4.8),(85.7,6.4),(86.7,7.7),(88,8.6),(90,9.0),(91.8,8.8),(93.3,8.1),(94.6,7),(95.3,6)],
    [(86.5,.8),(86,2.5),(86.2,4.3),(86.7,5.8),(87.3,7.3),(88.3,8.4),(90,8.6),(91.7,8.3),(93,7.3),(93.8,6.2),(95,5.6)],
    [(87.5,1.5),(87,3.2),(87.2,4.8),(87.6,6.2),(88.3,7.4),(89.3,8.1),(90.8,8.2),(92,7.4),(93,6.6),(94.5,5.5)],
    [(83.2,4),(83.5,5.5),(84,7),(85,8.5),(86.5,9.4),(88.5,9.8),(90.5,9.8),(92.5,9.5),(94,9.3)],
    [(88.5,4.5),(88.6,5.5),(89.3,6.8),(90.2,7.6),(91.2,7.4),(91.7,6.6),(91.4,5.4),(90.7,4.6)],
    [(86,4.4),(85.7,5.7),(86.2,7),(87,7.9),(88.5,8.2),(90,7.8),(91,6.8),(90.8,5.2),(90,4.4)],
    [(84.8,5),(84.7,6.5),(85.8,8),(87.3,8.9),(89,9.2),(91,9.2),(92.7,8.5),(93.5,7.2),(93.3,5.8),(92.7,4.8)],
    [(82.2,5.7),(83.7,7),(85,7.8),(87,8.3),(89,8.5),(91.4,8.9),(93.6,8.8),(95.5,8.5),(97.5,8.3),(99,8.1)],
    [(81,6),(83,6.5),(85,7),(87,7.3),(89,7.7),(91,8.2),(93,8.4),(95,8.9),(97,9.4),(99,9.4)],
    [(96,5.5),(96.8,5.9),(97.5,6.5),(98.5,6.9),(99,7.2),(98.6,6.3),(98.4,5.7)],
    [(95,1),(95.4,1.4),(94.9,2),(95.4,2.6),(94.9,3.2),(95.5,3.6),(95,4.2),(95.7,5)],
    [(92,.3),(92.7,1),(92,1.8),(93,2.5),(92.3,3.3),(93,4),(93.5,4.8)],
    [(90,.5),(90.6,1.3),(89.8,2.2),(90.8,3),(90.3,3.8),(91.2,4.5)],
    [(88,.4),(88.5,1),(88,1.8),(88.7,2.6),(88.2,3.4),(89,4)],
    [(83,.3),(85,.25),(87,.3),(90,.25),(92,.5),(94,.45),(95,.6)],
    [(82.5,.5),(84,.6),(86,.9),(88,1.2),(91,1.7),(93,1.9),(95,2.2)],
    [(81,2),(83,1.7),(85,1.5),(88,2.1),(91,2.7),(93,2.7),(95,3.2)],
    [(72,.2),(74,.55),(77,.7),(79,1.0),(81,.75),(83,.7)],
    [(95.2,5.4),(95.6,5.9),(96.2,5.9),(96.6,5.4),(96.2,5),(95.6,5),(95.2,5.4)],
    [(95.4,5.4),(95.7,5.7),(96.1,5.7),(96.3,5.4),(96,5.15),(95.6,5.2),(95.4,5.4)],
    [(95.6,5.4),(95.8,5.6),(96,5.55),(96.1,5.35),(95.9,5.25),(95.6,5.4)],
]
c_contours = [
    [(14.1,.04),(16.2,.68),(18,1.24),(20.2,1.87),(21.3,2.5),(22.4,3.0),(25.3,3.35),(28.9,3.9),(30.7,4.13),(31.6,4.34),(34.4,4.55),(36.9,5.04),(39.8,5.04),(43.5,5.18),(47.5,5.25),(49.2,5.68),(51.7,5.75),(55.6,6.03),(58,5.6),(60.1,5.54),(61.5,6.6),(64.4,7.44),(66.5,7.8),(69.3,8),(71.5,8.65)],
    [(76.9,9.27),(79.5,9.97)],
    [(31.5,.04),(32.4,.28),(35.1,.35),(36.2,.53),(39.1,.7)],
    [(43.8,1.21),(45.6,1.35),(49.5,1.5),(54.9,1.59),(56,1.94),(59.8,2.44),(63.3,3.07),(66.1,3.7),(69.6,4.05),(73.9,4.23),(75.6,4.69),(76.7,5.04),(79.2,5.2),(81.3,5.68),(83.6,6.52),(86.2,7.3),(88,8.14),(89.7,9.13),(91.7,9.94)],
    [(73.3,.07),(75.6,.6),(77,.82),(79.2,1.03),(81.8,1.55)],
    [(86,2.37),(88.7,2.8),(91,3.07),(91.8,3.92),(93.9,4.9),(96,6),(97.8,7.58),(99.2,9.13),(99.3,9.97)],
]
c_labels = [('0.1',74.6,8.97,10),('0.5',41.4,1.0,10),('0.9',83.7,2.0,18)]

# ---- panels d, e: r(t)
d_grey = [(0,0),(8500,0),(9150,1.0),(50000,1.0)]
d_purple = [(0,0),(4360,0),(5000,.015),(5500,.05),(6000,.13),(6500,.25),(7000,.38),(7500,.5),(8000,.62),(8500,.72),(9240,.84),(10500,.93),(11780,.967),(13050,.988),(15170,.998),(50000,.9995)]
d_green = [(0,0),(3100,.002),(3730,.02),(4580,.1),(5420,.25),(6270,.43),(7540,.62),(8800,.735),(10500,.886),(12630,.95),(14750,.973),(17300,.988),(22400,.991),(50000,.991)]
d_blue = [(0,0),(1600,.012),(2670,.04),(3730,.13),(4790,.27),(5850,.42),(7120,.56),(8800,.68),(10500,.79),(12630,.865),(15170,.92),(18130,.947),(22370,.96),(30850,.967),(50000,.968)]
d_red = [(0,0),(1610,.03),(2250,.07),(3300,.16),(4580,.28),(5850,.38),(7120,.47),(8600,.543),(10080,.594),(11780,.66),(13900,.71),(16000,.75),(19400,.787),(24000,.816),(30000,.836),(35000,.843),(41000,.849),(50000,.853)]

e_grey = [(0,0),(4360,0),(4750,.05),(5080,.2),(5300,.34),(5500,.4),(6140,.5),(6570,.6),(7000,.8),(7290,.93),(7630,1.0),(50000,1.0)]
e_purple = [(0,0),(850,.03),(1900,.1),(2970,.2),(4240,.32),(5500,.43),(6780,.49),(8470,.565),(10170,.62),(13130,.68),(18640,.73),(25000,.76),(31360,.785),(35600,.81),(39830,.82),(50000,.828)]
e_green = [(0,0),(640,.03),(1700,.14),(2750,.26),(3810,.36),(5080,.46),(6360,.525),(8050,.58),(10170,.63),(13130,.685),(18640,.73),(25000,.76),(31360,.785),(39830,.804),(50000,.81)]
e_blue = [(0,0),(420,.03),(1270,.13),(2120,.24),(3390,.36),(4660,.46),(6360,.55),(8050,.595),(10170,.64),(13130,.69),(18640,.73),(25000,.75),(31360,.765),(39830,.77),(50000,.772)]
e_red = [(0,0),(340,.03),(1060,.14),(1900,.27),(2970,.38),(4450,.48),(6360,.555),(8050,.595),(10170,.625),(13130,.66),(16530,.68),(20760,.69),(27120,.695),(39830,.703),(50000,.705)]

legend_labels = [r'$\sigma_f^2=0$ (Homogeneous)', r'$\sigma_f^2=0.5$', r'$\sigma_f^2=1$', r'$\sigma_f^2=2$', r'$\sigma_f^2=4$']
legend_colors = [GREY, PURPLE, GREEN, BLUE, RED]

W, H = 1039, 1519


def px_axes(fig, left, top, right, bottom):
    return fig.add_axes([left / W, 1 - bottom / H, (right - left) / W, (bottom - top) / H])


def curve(ax, pts, color, lw, z=2):
    # smooth curve with the read points as quadratic control points
    pts = np.array(pts, dtype=float)
    mids = (pts[:-1] + pts[1:]) / 2
    verts = [pts[0], mids[0]]
    codes = [Path.MOVETO, Path.LINETO]
    for p, m in zip(pts[1:-1], mids[1:]):
        verts += [p, m]
        codes += [Path.CURVE3, Path.CURVE3]
    verts.append(pts[-1])
    codes.append(Path.LINETO)
    ax.add_patch(PathPatch(Path(verts, codes), fill=False, ec=color, lw=lw, zorder=z))


def flow_panel(ax, title, contours, labels):
    ax.set_facecolor('black')
    ax.set_xlim(0, 100)
    ax.set_ylim(0, 10)
    ax.set_xticks(range(0, 101, 20))
    ax.set_yticks(range(0, 11, 2))
    ax.tick_params(width=0.7, length=3.5, pad=3)
    ax.set_xlabel('$x$', labelpad=3)
    ax.set_ylabel('$z$', labelpad=3)
    ax.set_title(title, loc='left', fontsize=11.7, pad=5)
    for seg in contours:
        curve(ax, seg, 'white', 0.7, z=1.5)
    for text, x, z, rot in labels:
        ax.text(x, z, text, color='white', fontsize=10.5, rotation=rot,
                ha='center', va='center', zorder=4)


fig = plt.figure(figsize=(W / 150, H / 150), dpi=150)

# panel a
ax = px_axes(fig, 70, 34, 1018, 271)
flow_panel(ax, r'a  $\sigma_f^2=0$ (Homogeneous)', a_contours, a_labels)
for line in a_red:
    curve(ax, line, RED, 0.5)
for line in a_blue:
    curve(ax, line, BLUE, 0.5)

# panel b
ax = px_axes(fig, 70, 377, 1018, 614)
flow_panel(ax, r'b  $\sigma_f^2=0.5$', b_contours, b_labels)
for zs in b_red:
    curve(ax, list(zip(b_red_x, zs)), RED, 0.55)
for line in b_blue:
    curve(ax, line, BLUE, 0.55, z=2.5)

# panel c
ax = px_axes(fig, 70, 719, 1018, 956)
flow_panel(ax, r'c  $\sigma_f^2=4$', c_contours, c_labels)
for zs in c_red:
    curve(ax, list(zip(c_red_x, zs)), RED, 0.55)
for line in c_red_extra:
    curve(ax, line, RED, 0.55)
for line in c_blue:
    curve(ax, line, BLUE, 0.55, z=2.5)

# panels d, e
for left, right, name, series in [
    (84, 477, 'd  Land', [d_grey, d_purple, d_green, d_blue, d_red]),
    (610, 1003, 'e  Sea', [e_grey, e_purple, e_green, e_blue, e_red]),
]:
    ax = px_axes(fig, left, 1080, right, 1395)
    ax.plot(*zip(*series[0]), color=GREY, lw=1.2)
    for pts, col in zip(series[1:], legend_colors[1:]):
        curve(ax, pts, col, 1.2)
    ax.set_xlim(0, 50000)
    ax.set_ylim(-0.05, 1.05)
    ax.set_xticks(range(0, 50001, 10000))
    ax.set_yticks([0, 0.2, 0.4, 0.6, 0.8, 1.0])
    ax.tick_params(width=0.7, length=3.5, pad=3)
    ax.set_xlabel(r'$t\,/\,\tau$', labelpad=3)
    ax.set_ylabel('$r(t)$', labelpad=2)
    ax.set_title(name, loc='left', fontsize=12.4, pad=6)

handles = [plt.Line2D([], [], color=c, lw=1.2) for c in legend_colors]
fig.legend(handles, legend_labels, loc='center', bbox_to_anchor=(516 / W, 1 - 1505 / H),
           ncol=5, frameon=False, fontsize=8.1, handlelength=2.2, handletextpad=0.8,
           columnspacing=1.8)

fig.savefig('out.png', dpi=150)
